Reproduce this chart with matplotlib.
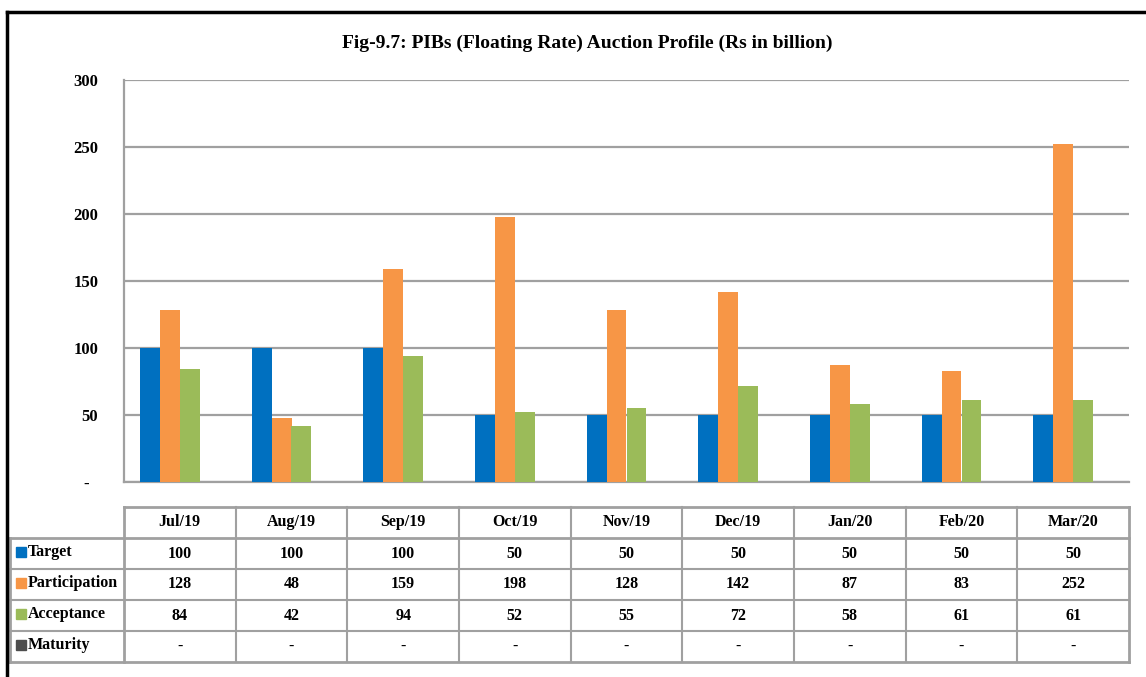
import numpy as np
import matplotlib.pyplot as plt
from matplotlib.lines import Line2D

months = ['Jul/19', 'Aug/19', 'Sep/19', 'Oct/19', 'Nov/19', 'Dec/19', 'Jan/20', 'Feb/20', 'Mar/20']
target = [100, 100, 100, 50, 50, 50, 50, 50, 50]
participation = [128, 48, 159, 198, 128, 142, 87, 83, 252]
acceptance = [84, 42, 94, 52, 55, 72, 58, 61, 61]
maturity = [0, 0, 0, 0, 0, 0, 0, 0, 0]

series_names = ['Target', 'Participation', 'Acceptance', 'Maturity']
series_vals = [target, participation, acceptance, maturity]
colors = ['#0070C0', '#F79646', '#9BBB59', '#4D4D4D']

plt.rcParams['font.family'] = ['Liberation Serif', 'DejaVu Serif']
plt.rcParams['font.weight'] = 'bold'

W, H = 1146, 677
fig = plt.figure(figsize=(W / 100, H / 100), dpi=100)
grid_c = '#A0A0A0'

# main bar chart
ax = fig.add_axes([124 / W, 1 - 482 / H, (1129 - 124) / W, (482 - 80) / H])
x = np.arange(len(months))
bw = 0.179
for i, (name, vals, c) in enumerate(zip(series_names, series_vals, colors)):
    ax.bar(x + (i - 1.5) * bw, vals, bw, color=c, zorder=3)

ax.set_xlim(-0.5, len(months) - 0.5)
ax.set_ylim(0, 300)
yt = np.arange(0, 301, 50)
ax.set_yticks(yt)
ax.set_yticklabels(['-  '] + [str(v) for v in yt[1:]], fontsize=12, fontweight='bold')
ax.tick_params(axis='y', length=0, pad=18.5)
ax.set_xticks([])
ax.grid(axis='y', color=grid_c, linewidth=1.6, zorder=0)
for s in ['top', 'right']:
    ax.spines[s].set_visible(False)
ax.spines['left'].set_color(grid_c)
ax.spines['left'].set_linewidth(1.6)
ax.spines['bottom'].set_color(grid_c)
ax.spines['bottom'].set_linewidth(1.6)

# data table under the chart
tx = fig.add_axes([124 / W, 1 - 662 / H, (1129 - 124) / W, (662 - 507) / H])
tx.set_xlim(-0.5, len(months) - 0.5)
tx.set_ylim(5, 0)
tx.axis('off')
lab_w = 1.02
lw = 1.5
# horizontal lines
tx.plot([-0.5, len(months) - 0.5], [0, 0], color=grid_c, lw=2, clip_on=False)
for r in range(1, 6):
    tx.plot([-0.5 - lab_w, len(months) - 0.5], [r, r], color=grid_c,
            lw=2 if r in (1, 5) else lw, clip_on=False)
# vertical lines
tx.plot([-0.5 - lab_w, -0.5 - lab_w], [1, 5], color=grid_c, lw=2, clip_on=False)
for j in range(len(months) + 1):
    tx.plot([j - 0.5, j - 0.5], [0, 5], color=grid_c,
            lw=2 if j in (0, len(months)) else lw, clip_on=False)

for j, m in enumerate(months):
    tx.text(j, 0.5, m, ha='center', va='center', fontsize=11.5, fontweight='bold')
for r, (name, vals, c) in enumerate(zip(series_names, series_vals, colors)):
    yy = r + 1.5
    tx.plot(-0.5 - lab_w + 0.1, yy - 0.05, marker='s', markersize=6.5, color=c,
            clip_on=False, linestyle='none')
    tx.text(-0.5 - lab_w + 0.16, yy - 0.05, name, ha='left', va='center',
            fontsize=11.5, fontweight='bold')
    for j, v in enumerate(vals):
        txt = '-' if v == 0 else str(v)
        tx.text(j, yy, txt, ha='center', va='center', fontsize=11.5, fontweight='bold')

# title and frame
fig.text(587 / W, 1 - 43 / H, 'Fig-9.7: PIBs (Floating Rate) Auction Profile (Rs in billion)',
         ha='center', va='center', fontsize=14, fontweight='bold')
fig.add_artist(Line2D([7 / W, 7 / W], [0, 1 - 12 / H], color='black', lw=2.5))
fig.add_artist(Line2D([7 / W, 1], [1 - 12 / H, 1 - 12 / H], color='black', lw=2.5))

fig.savefig('out.png', dpi=100)
